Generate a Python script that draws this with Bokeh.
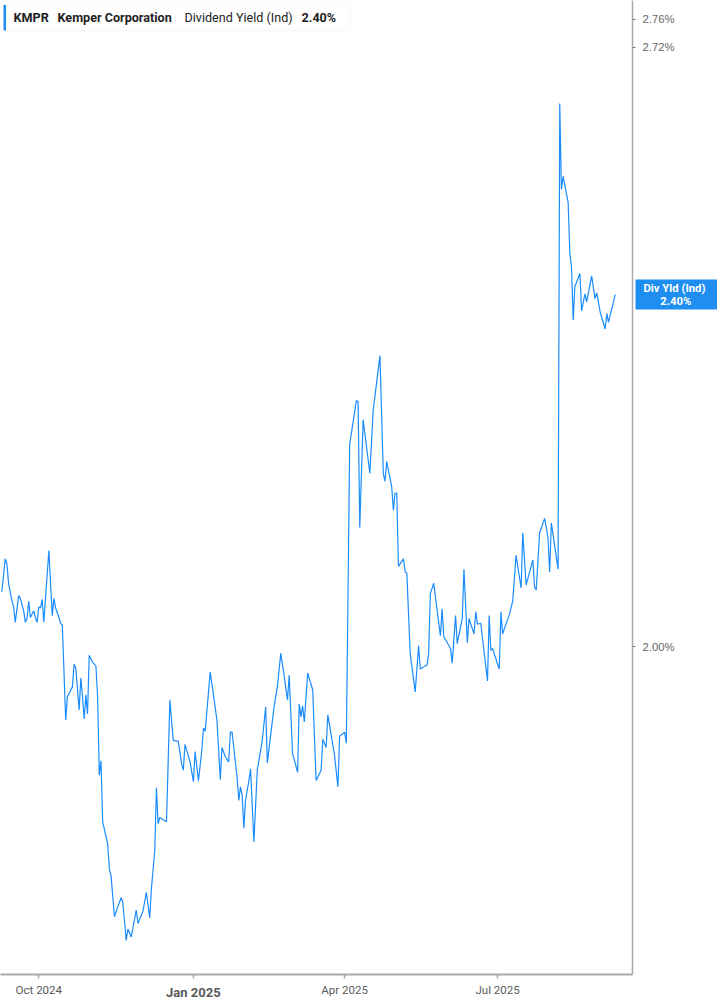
from datetime import datetime
import pandas as pd
from bokeh.plotting import figure
from bokeh.models import (Range1d, FixedTicker, PrintfTickFormatter, Label, BoxAnnotation,
                          LogAxis, DatetimeAxis)
from bokeh.embed import file_html
from bokeh.resources import INLINE

# ---------------- data ----------------
dates = [
    "2024-09-09", "2024-09-11", "2024-09-12", "2024-09-13", "2024-09-15", "2024-09-16",
    "2024-09-17", "2024-09-19", "2024-09-20", "2024-09-22", "2024-09-23", "2024-09-24",
    "2024-09-25", "2024-09-26", "2024-09-28", "2024-09-29", "2024-09-30", "2024-10-01",
    "2024-10-02", "2024-10-03", "2024-10-04", "2024-10-07", "2024-10-09", "2024-10-10",
    "2024-10-11", "2024-10-13", "2024-10-14", "2024-10-15", "2024-10-17", "2024-10-18",
    "2024-10-21", "2024-10-22", "2024-10-23", "2024-10-25", "2024-10-26", "2024-10-27",
    "2024-10-28", "2024-10-29", "2024-10-30", "2024-10-31", "2024-11-02", "2024-11-04",
    "2024-11-05", "2024-11-06", "2024-11-07", "2024-11-08", "2024-11-11", "2024-11-12",
    "2024-11-13", "2024-11-15", "2024-11-17", "2024-11-19", "2024-11-20", "2024-11-22",
    "2024-11-23", "2024-11-25", "2024-11-28", "2024-11-29", "2024-12-02", "2024-12-04",
    "2024-12-06", "2024-12-07", "2024-12-09", "2024-12-10", "2024-12-11", "2024-12-12",
    "2024-12-16", "2024-12-18", "2024-12-20", "2024-12-23", "2024-12-25", "2024-12-26",
    "2024-12-27", "2024-12-30", "2025-01-01", "2025-01-02", "2025-01-04", "2025-01-06",
    "2025-01-07", "2025-01-08", "2025-01-11", "2025-01-13", "2025-01-15", "2025-01-17",
    "2025-01-18", "2025-01-20", "2025-01-22", "2025-01-23", "2025-01-24", "2025-01-27",
    "2025-01-28", "2025-01-29", "2025-01-30", "2025-01-31", "2025-02-01", "2025-02-03",
    "2025-02-04", "2025-02-06", "2025-02-08", "2025-02-11", "2025-02-13", "2025-02-14",
    "2025-02-18", "2025-02-20", "2025-02-22", "2025-02-24", "2025-02-26", "2025-02-27",
    "2025-03-01", "2025-03-04", "2025-03-05", "2025-03-06", "2025-03-07", "2025-03-08",
    "2025-03-10", "2025-03-13", "2025-03-15", "2025-03-18", "2025-03-19", "2025-03-21",
    "2025-03-22", "2025-03-26", "2025-03-28", "2025-03-29", "2025-04-01", "2025-04-02",
    "2025-04-04", "2025-04-08", "2025-04-09", "2025-04-10", "2025-04-12", "2025-04-16",
    "2025-04-18", "2025-04-22", "2025-04-24", "2025-04-25", "2025-04-26", "2025-04-29",
    "2025-04-30", "2025-05-01", "2025-05-02", "2025-05-03", "2025-05-06", "2025-05-07",
    "2025-05-08", "2025-05-10", "2025-05-13", "2025-05-15", "2025-05-16", "2025-05-20",
    "2025-05-21", "2025-05-22", "2025-05-24", "2025-05-28", "2025-05-29", "2025-05-30",
    "2025-06-03", "2025-06-04", "2025-06-06", "2025-06-07", "2025-06-10", "2025-06-11",
    "2025-06-13", "2025-06-14", "2025-06-17", "2025-06-18", "2025-06-19", "2025-06-21",
    "2025-06-25", "2025-06-26", "2025-06-27", "2025-06-28", "2025-07-02", "2025-07-03",
    "2025-07-04", "2025-07-08", "2025-07-10", "2025-07-12", "2025-07-15", "2025-07-16",
    "2025-07-18", "2025-07-22", "2025-07-23", "2025-07-24", "2025-07-26", "2025-07-29",
    "2025-07-31", "2025-08-01", "2025-08-02", "2025-08-06", "2025-08-07", "2025-08-08",
    "2025-08-09", "2025-08-12", "2025-08-13", "2025-08-14", "2025-08-15", "2025-08-16",
    "2025-08-19", "2025-08-20", "2025-08-22", "2025-08-23", "2025-08-26", "2025-08-28",
    "2025-08-29", "2025-08-31", "2025-09-03", "2025-09-04", "2025-09-05", "2025-09-09",
]

dividend_yield = [
    2.057, 2.092, 2.087, 2.066, 2.048, 2.041,
    2.025, 2.053, 2.050, 2.037, 2.025, 2.029,
    2.047, 2.030, 2.037, 2.030, 2.025, 2.041,
    2.040, 2.049, 2.025, 2.101, 2.032, 2.050,
    2.040, 2.030, 2.024, 2.022, 1.926, 1.949,
    1.959, 1.982, 1.978, 1.936, 1.968, 1.949,
    1.927, 1.951, 1.932, 1.991, 1.984, 1.980,
    1.949, 1.872, 1.886, 1.828, 1.807, 1.784,
    1.778, 1.741, 1.750, 1.758, 1.754, 1.720,
    1.730, 1.723, 1.747, 1.735, 1.746, 1.763,
    1.740, 1.766, 1.801, 1.860, 1.826, 1.832,
    1.828, 1.946, 1.906, 1.905, 1.883, 1.877,
    1.902, 1.885, 1.866, 1.895, 1.867, 1.896,
    1.918, 1.915, 1.974, 1.950, 1.926, 1.868,
    1.899, 1.890, 1.885, 1.914, 1.914, 1.870,
    1.848, 1.861, 1.853, 1.822, 1.848, 1.867,
    1.878, 1.809, 1.877, 1.906, 1.939, 1.884,
    1.939, 1.960, 1.993, 1.970, 1.946, 1.971,
    1.893, 1.875, 1.942, 1.929, 1.940, 1.924,
    1.973, 1.956, 1.867, 1.877, 1.907, 1.899,
    1.931, 1.891, 1.861, 1.910, 1.914, 1.903,
    2.219, 2.269, 2.268, 2.126, 2.247, 2.186,
    2.258, 2.322, 2.186, 2.177, 2.199, 2.171,
    2.145, 2.164, 2.164, 2.084, 2.092, 2.078,
    2.077, 1.993, 1.954, 2.001, 1.977, 1.981,
    1.993, 2.055, 2.066, 2.011, 2.039, 2.010,
    1.998, 1.983, 2.032, 2.003, 2.029, 2.081,
    2.004, 2.029, 2.013, 2.036, 2.023, 2.024,
    1.965, 2.032, 1.996, 1.998, 1.977, 2.036,
    2.013, 2.033, 2.047, 2.096, 2.061, 2.120,
    2.064, 2.091, 2.062, 2.059, 2.120, 2.136,
    2.115, 2.078, 2.131, 2.081, 2.643, 2.529,
    2.546, 2.512, 2.447, 2.430, 2.365, 2.406,
    2.422, 2.376, 2.397, 2.387, 2.419, 2.391,
    2.398, 2.375, 2.354, 2.373, 2.362, 2.396,
]

x_tick_dates = ["2024-10-01", "2025-01-01", "2025-04-01", "2025-07-01"]
x_tick_labels = ["Oct 2024", "Jan 2025", "Apr 2025", "Jul 2025"]
y_tick_values = [2.00, 2.72, 2.76]

symbol = "KMPR"
company = "Kemper Corporation"
metric = "Dividend Yield (Ind)"
short_metric = "Div Yld (Ind)"
last_value = dividend_yield[-1]

# ---------------- figure ----------------
LINE_BLUE = "#1a8cff"
TAG_BLUE = "#1f8ef1"
AXIS_GREY = "#a9a9a9"
TEXT_GREY = "#5a5a5a"
FONT = "Roboto"
HEAD_FONT = "Roboto"
NBSP = "\u00a0"

FW, FH = 632, 974
W, H = 717, 1005

xs = pd.to_datetime(dates)

p = figure(
    frame_width=FW, frame_height=FH,
    x_axis_type="datetime", y_axis_type="log",
    y_axis_location="right",
    x_range=Range1d(datetime(2024, 9, 8, 5), datetime(2025, 9, 19, 7)),
    y_range=Range1d(1.6901, 2.7864),
    output_backend="svg", toolbar_location=None,
    min_border_left=0, min_border_top=0,
    min_border_right=W - FW, min_border_bottom=H - FH,
    background_fill_color="white", border_fill_color="white",
)
p.outline_line_color = None
p.grid.visible = False

p.line(xs, dividend_yield, line_color=LINE_BLUE, line_width=1.2)

# x axis: regular labels (Jan left blank, drawn bold by a second axis)
tick_ms = [int(pd.Timestamp(d).value // 10**6) for d in x_tick_dates]
xa = p.xaxis[0]
xa.ticker = FixedTicker(ticks=tick_ms)
xa.major_label_overrides = {
    t: ("" if lab.startswith("Jan") else lab) for t, lab in zip(tick_ms, x_tick_labels)
}
xa.axis_line_color = AXIS_GREY
xa.axis_line_width = 2
xa.major_tick_line_color = AXIS_GREY
xa.major_tick_line_width = 1.5
xa.major_tick_in = 0
xa.major_tick_out = 4
xa.minor_tick_line_color = None
xa.major_label_standoff = 4
xa.major_label_text_font = FONT
xa.major_label_text_font_size = "11.5px"
xa.major_label_text_color = TEXT_GREY

jan = [(t, lab) for t, lab in zip(tick_ms, x_tick_labels) if lab.startswith("Jan")]
year_axis = DatetimeAxis(
    ticker=FixedTicker(ticks=[t for t, _ in jan]),
    major_label_overrides={t: lab for t, lab in jan},
    axis_line_color=None, major_tick_line_color=None, minor_tick_line_color=None,
    major_tick_in=0, major_tick_out=0, major_label_standoff=-15,
    major_label_text_font=FONT, major_label_text_font_size="13px",
    major_label_text_font_style="bold", major_label_text_color=TEXT_GREY,
)
p.add_layout(year_axis, "below")

# y axis (right)
ya = p.yaxis[0]
ya.ticker = FixedTicker(ticks=y_tick_values, minor_ticks=[])
ya.formatter = PrintfTickFormatter(format="%.2f%%")
ya.axis_line_color = AXIS_GREY
ya.axis_line_width = 1.5
ya.major_tick_line_color = "#777777"
ya.major_tick_in = 0
ya.major_tick_out = 3
ya.minor_tick_line_color = None
ya.major_label_standoff = 7
ya.major_label_text_font = "Liberation Sans"
ya.major_label_text_font_size = "11.3px"
ya.major_label_text_color = "#666666"

# current-value tag on the right (a thick tick acts as the blue box)
tag_axis = LogAxis(
    ticker=FixedTicker(ticks=[last_value], minor_ticks=[]),
    formatter=PrintfTickFormatter(format=short_metric + "\n" + NBSP * 6 + "%.2f%%"),
    axis_line_color=None, minor_tick_line_color=None,
    major_tick_line_color=TAG_BLUE, major_tick_line_width=30, major_tick_line_cap="butt",
    major_tick_in=42, major_tick_out=43, major_label_standoff=-77,
    major_label_text_font=FONT, major_label_text_font_size="11.3px",
    major_label_text_font_style="bold", major_label_text_color="white",
    major_label_text_line_height=1.0,
)
p.add_layout(tag_axis, "right")

# header legend box (top-left)
box_top = FH - 4.5
box_bot = FH - 30
p.add_layout(BoxAnnotation(
    left=3, right=350, top=box_top, bottom=box_bot,
    left_units="screen", right_units="screen", top_units="screen", bottom_units="screen",
    fill_color="white", fill_alpha=1.0, line_color="#e3e3e3", line_width=1,
    border_radius=3, level="annotation",
))
p.add_layout(BoxAnnotation(
    left=3, right=5.5, top=box_top, bottom=box_bot,
    left_units="screen", right_units="screen", top_units="screen", bottom_units="screen",
    fill_color=TAG_BLUE, fill_alpha=1.0, line_color=None, level="annotation",
))
header_items = [
    (13, symbol, "bold"),
    (57, company, "bold"),
    (184, metric, "normal"),
    (301, f"{last_value:.2f}%", "bold"),
]
for hx, txt, style in header_items:
    p.add_layout(Label(
        x=hx, y=FH - 17, x_units="screen", y_units="screen",
        text=txt, text_font=HEAD_FONT, text_font_size="12.6px", text_font_style=style,
        text_color="#222222", text_baseline="middle", text_align="left",
    ))

open("out.html", "w").write(file_html(p, INLINE))
